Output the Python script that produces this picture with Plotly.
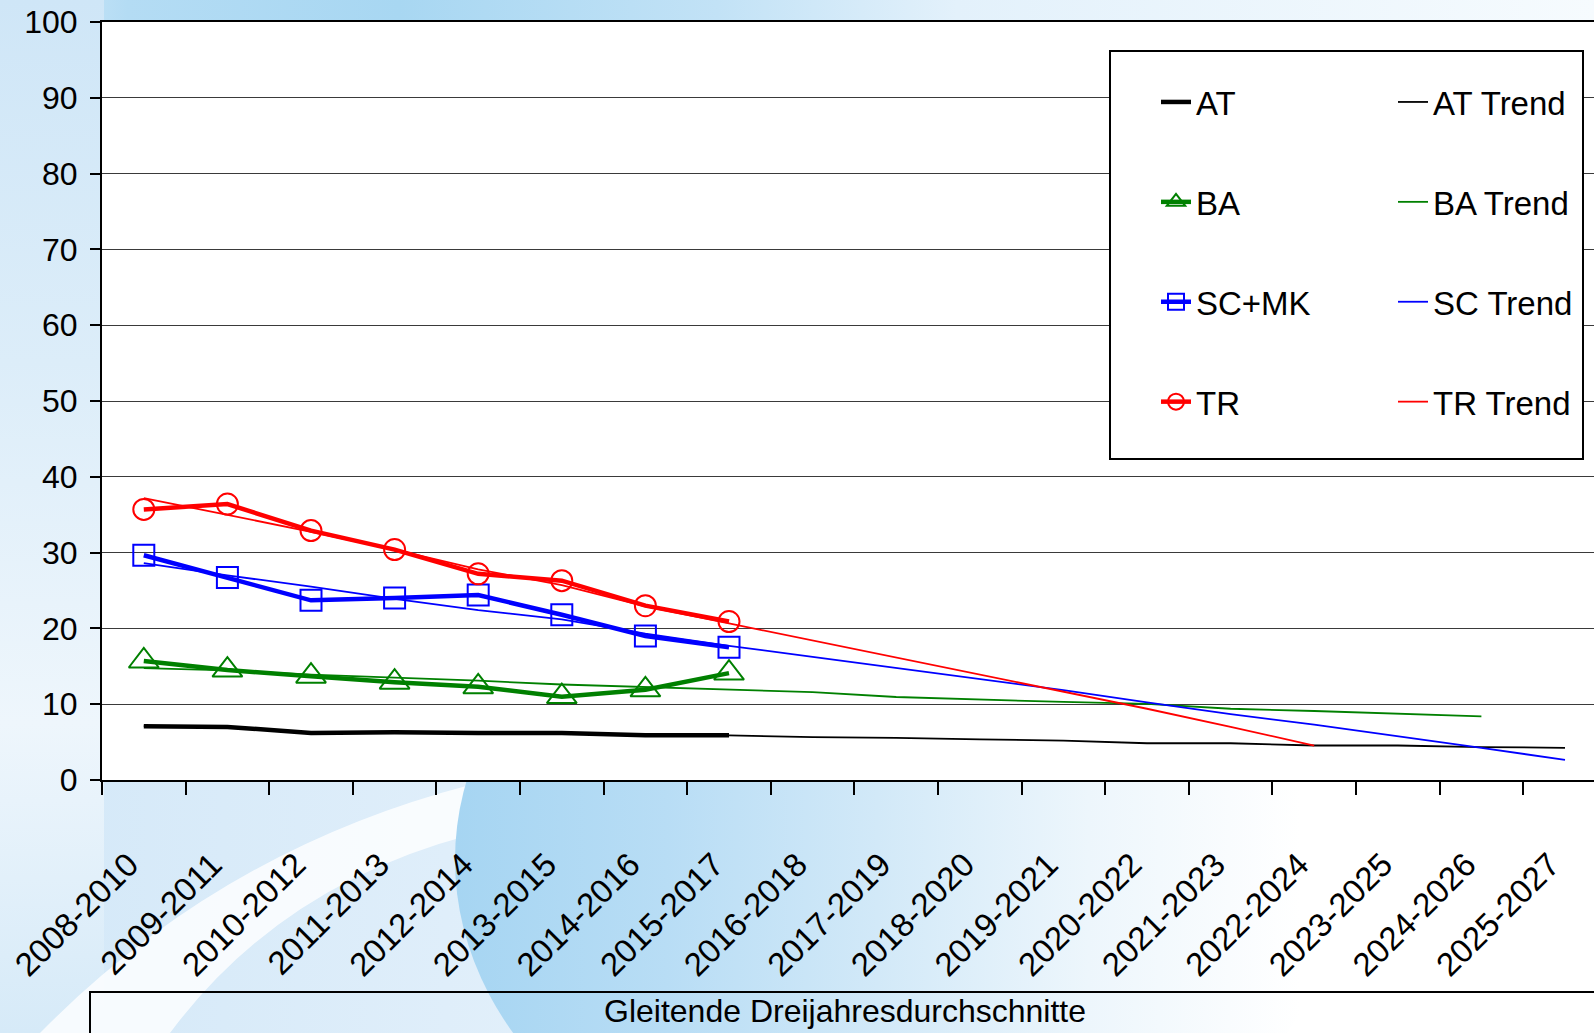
import base64
import plotly.graph_objects as go

# ---------------- data ----------------
categories = ["2008-2010", "2009-2011", "2010-2012", "2011-2013", "2012-2014", "2013-2015",
              "2014-2016", "2015-2017", "2016-2018", "2017-2019", "2018-2020", "2019-2021",
              "2020-2022", "2021-2023", "2022-2024", "2023-2025", "2024-2026", "2025-2027"]

at_values = [7.1, 7.0, 6.2, 6.3, 6.2, 6.2, 5.9, 5.9]
ba_values = [15.7, 14.5, 13.7, 12.9, 12.3, 11.0, 11.9, 14.1]
sc_values = [29.65, 26.7, 23.7, 24.0, 24.4, 21.8, 19.0, 17.5]
tr_values = [35.7, 36.4, 32.9, 30.4, 27.2, 26.3, 23.0, 20.9]

at_trend = [7.1, 7.0, 6.2, 6.3, 6.2, 6.2, 5.9, 5.9, 5.65, 5.55, 5.35, 5.2,
            4.85, 4.85, 4.55, 4.55, 4.35, 4.25]
ba_trend = [14.75, 14.45, 13.9, 13.5, 13.1, 12.6, 12.25, 11.9, 11.6, 10.95, 10.6, 10.3,
            10.05, 9.4, 9.1, 8.7, 8.4]
sc_trend = [28.6, 27.0, 25.5, 23.9, 22.4, 21.2, 19.3, 17.7, 16.25, 14.8, 13.3, 11.85,
            10.25, 8.7, 7.3, 5.8, 4.25, 2.65]
tr_trend = [37.2, 35.0, 32.75, 30.4, 27.8, 25.7, 22.9, 20.65, 18.4, 16.1, 13.9, 11.6,
            9.4, 7.0, 4.55]

y_ticks = [0, 10, 20, 30, 40, 50, 60, 70, 80, 90, 100]
x_title = "Gleitende Dreijahresdurchschnitte"

# ---------------- layout geometry ----------------
W, H = 1594, 1033
ML, MR, MT, MB = 102, 0, 22, 253
PW = W - ML - MR
PH = H - MT - MB
CAT_PX = 83.6

def px_x(px):
    return (px - ML) / PW

def px_y(py):
    return (H - MB - py) / PH

FONT = "Liberation Sans, Arial, sans-serif"

BLACK = "#000000"
GREEN = "#008000"
BLUE = "#0000FF"
RED = "#FF0000"

# ---------------- decorative background (svg with gradients) ----------------
bg_svg = """<svg xmlns="http://www.w3.org/2000/svg" width="1594" height="1033" viewBox="0 0 1594 1033">
<defs>
<linearGradient id="lv" gradientUnits="userSpaceOnUse" x1="0" y1="0" x2="0" y2="1033">
<stop offset="0" stop-color="#cfe6f7"/><stop offset="0.35" stop-color="#dcedf9"/>
<stop offset="0.7" stop-color="#eef6fc"/><stop offset="1" stop-color="#d6eaf8"/></linearGradient>
<linearGradient id="tp" gradientUnits="userSpaceOnUse" x1="0" y1="0" x2="1594" y2="0">
<stop offset="0" stop-color="#d6ebf9"/><stop offset="0.08" stop-color="#b4dcf4"/>
<stop offset="0.25" stop-color="#a8d7f2"/><stop offset="0.45" stop-color="#c2e2f6"/>
<stop offset="0.6" stop-color="#e3f1fb"/><stop offset="1" stop-color="#f6fbfe"/></linearGradient>
<linearGradient id="bt" gradientUnits="userSpaceOnUse" x1="0" y1="0" x2="1594" y2="0">
<stop offset="0" stop-color="#d3e8f8"/><stop offset="0.28" stop-color="#dfeefa"/>
<stop offset="0.6" stop-color="#eef6fc"/><stop offset="0.8" stop-color="#ffffff"/></linearGradient>
<linearGradient id="sp" gradientUnits="userSpaceOnUse" x1="455" y1="0" x2="1300" y2="0">
<stop offset="0" stop-color="#a6d5f2"/><stop offset="0.25" stop-color="#b8ddf5"/>
<stop offset="0.5" stop-color="#d2e9f8"/><stop offset="0.75" stop-color="#edf6fc"/>
<stop offset="1" stop-color="#ffffff"/></linearGradient>
</defs>
<rect x="0" y="0" width="1594" height="1033" fill="#ffffff"/>
<rect x="0" y="760" width="1594" height="273" fill="url(#bt)"/>
<rect x="0" y="0" width="1594" height="24" fill="url(#tp)"/>
<rect x="0" y="0" width="104" height="1033" fill="url(#lv)"/>
<path d="M 40 1033 Q 220 850 470 785 L 470 835 Q 280 885 170 1033 Z" fill="#ffffff" fill-opacity="0.8"/>
<ellipse cx="900" cy="860" rx="445" ry="350" fill="url(#sp)"/>
</svg>"""
bg_uri = "data:image/svg+xml;base64," + base64.b64encode(bg_svg.encode("utf-8")).decode("ascii")

fig = go.Figure()

# trend lines (thin)
trend_specs = [("AT Trend", at_trend, BLACK), ("BA Trend", ba_trend, GREEN),
               ("SC Trend", sc_trend, BLUE), ("TR Trend", tr_trend, RED)]
for name, vals, col in trend_specs:
    fig.add_trace(go.Scatter(
        x=categories[:len(vals)], y=vals, name=name, mode="lines",
        line=dict(color=col, width=1.8), legend="legend2", legendgroup=name,
    ))

# actual series (thick with markers)
actual_specs = [("AT", at_values, BLACK, None, 0), ("BA", ba_values, GREEN, "triangle-up-open", 26),
                ("SC+MK", sc_values, BLUE, "square-open", 21), ("TR", tr_values, RED, "circle-open", 21)]
for name, vals, col, sym, msize in actual_specs:
    kw = dict(mode="lines")
    if sym:
        kw = dict(mode="lines+markers",
                  marker=dict(symbol=sym, size=msize, color=col, line=dict(color=col, width=2)))
    fig.add_trace(go.Scatter(
        x=categories[:len(vals)], y=vals, name=name,
        line=dict(color=col, width=4.5), legend="legend", legendgroup=name, **kw
    ))

shapes = [
    # keep plot area white over the background picture
    dict(type="rect", xref="paper", yref="paper", layer="below",
         x0=0, x1=1, y0=0, y1=1, fillcolor="white", line=dict(width=0)),
    # legend frame
    dict(type="rect", xref="paper", yref="paper", layer="above",
         x0=px_x(1110), x1=px_x(1583), y0=px_y(459), y1=px_y(51),
         fillcolor="white", line=dict(color="black", width=2)),
    # x-axis title frame
    dict(type="rect", xref="paper", yref="paper", layer="above",
         x0=px_x(90), x1=px_x(W + 20), y0=px_y(H + 20), y1=px_y(992),
         line=dict(color="black", width=2)),
]

legend_common = dict(
    xanchor="left", yanchor="top", orientation="v",
    bgcolor="rgba(0,0,0,0)", borderwidth=0,
    font=dict(family=FONT, size=33, color="black"),
    tracegroupgap=54, itemwidth=30,
)

fig.update_layout(
    width=W, height=H,
    margin=dict(l=ML, r=MR, t=MT, b=MB, pad=0),
    paper_bgcolor="white",
    plot_bgcolor="white",
    font=dict(family=FONT, color="black"),
    images=[dict(source=bg_uri, xref="paper", yref="paper",
                 x=px_x(0), y=px_y(0), sizex=W / PW, sizey=H / PH,
                 xanchor="left", yanchor="top", sizing="stretch", layer="below")],
    shapes=shapes,
    showlegend=True,
    legend=dict(x=px_x(1156), y=px_y(74), **legend_common),
    legend2=dict(x=px_x(1393), y=px_y(74), **legend_common),
    annotations=[dict(
        text=x_title, xref="paper", yref="paper",
        x=px_x(845), y=px_y(1011), xanchor="center", yanchor="middle",
        showarrow=False, font=dict(family=FONT, size=32, color="black"),
    )],
)

fig.update_xaxes(
    type="category", categoryorder="array", categoryarray=categories,
    range=[-0.5, -0.5 + PW / CAT_PX],
    showline=True, linecolor="black", linewidth=2, mirror=True,
    ticks="outside", ticklen=13, tickwidth=1.5, tickcolor="black",
    tickson="boundaries", tickangle=-45,
    tickfont=dict(family=FONT, size=33, color="black"),
    ticklabelstandoff=50, ticklabelshift=-15,
    showgrid=False, zeroline=False,
)
fig.update_yaxes(
    range=[0, 100], tickvals=y_ticks,
    showline=True, linecolor="black", linewidth=2,
    ticks="outside", ticklen=10, tickwidth=1.5, tickcolor="black",
    tickfont=dict(family=FONT, size=32, color="black"),
    ticklabelstandoff=6,
    showgrid=True, gridcolor="#3a3a3a", gridwidth=1,
    zeroline=False,
)

fig.write_html("out.html", config={"displayModeBar": False},
               post_script="document.body.style.margin='0';document.body.style.overflow='hidden';")
